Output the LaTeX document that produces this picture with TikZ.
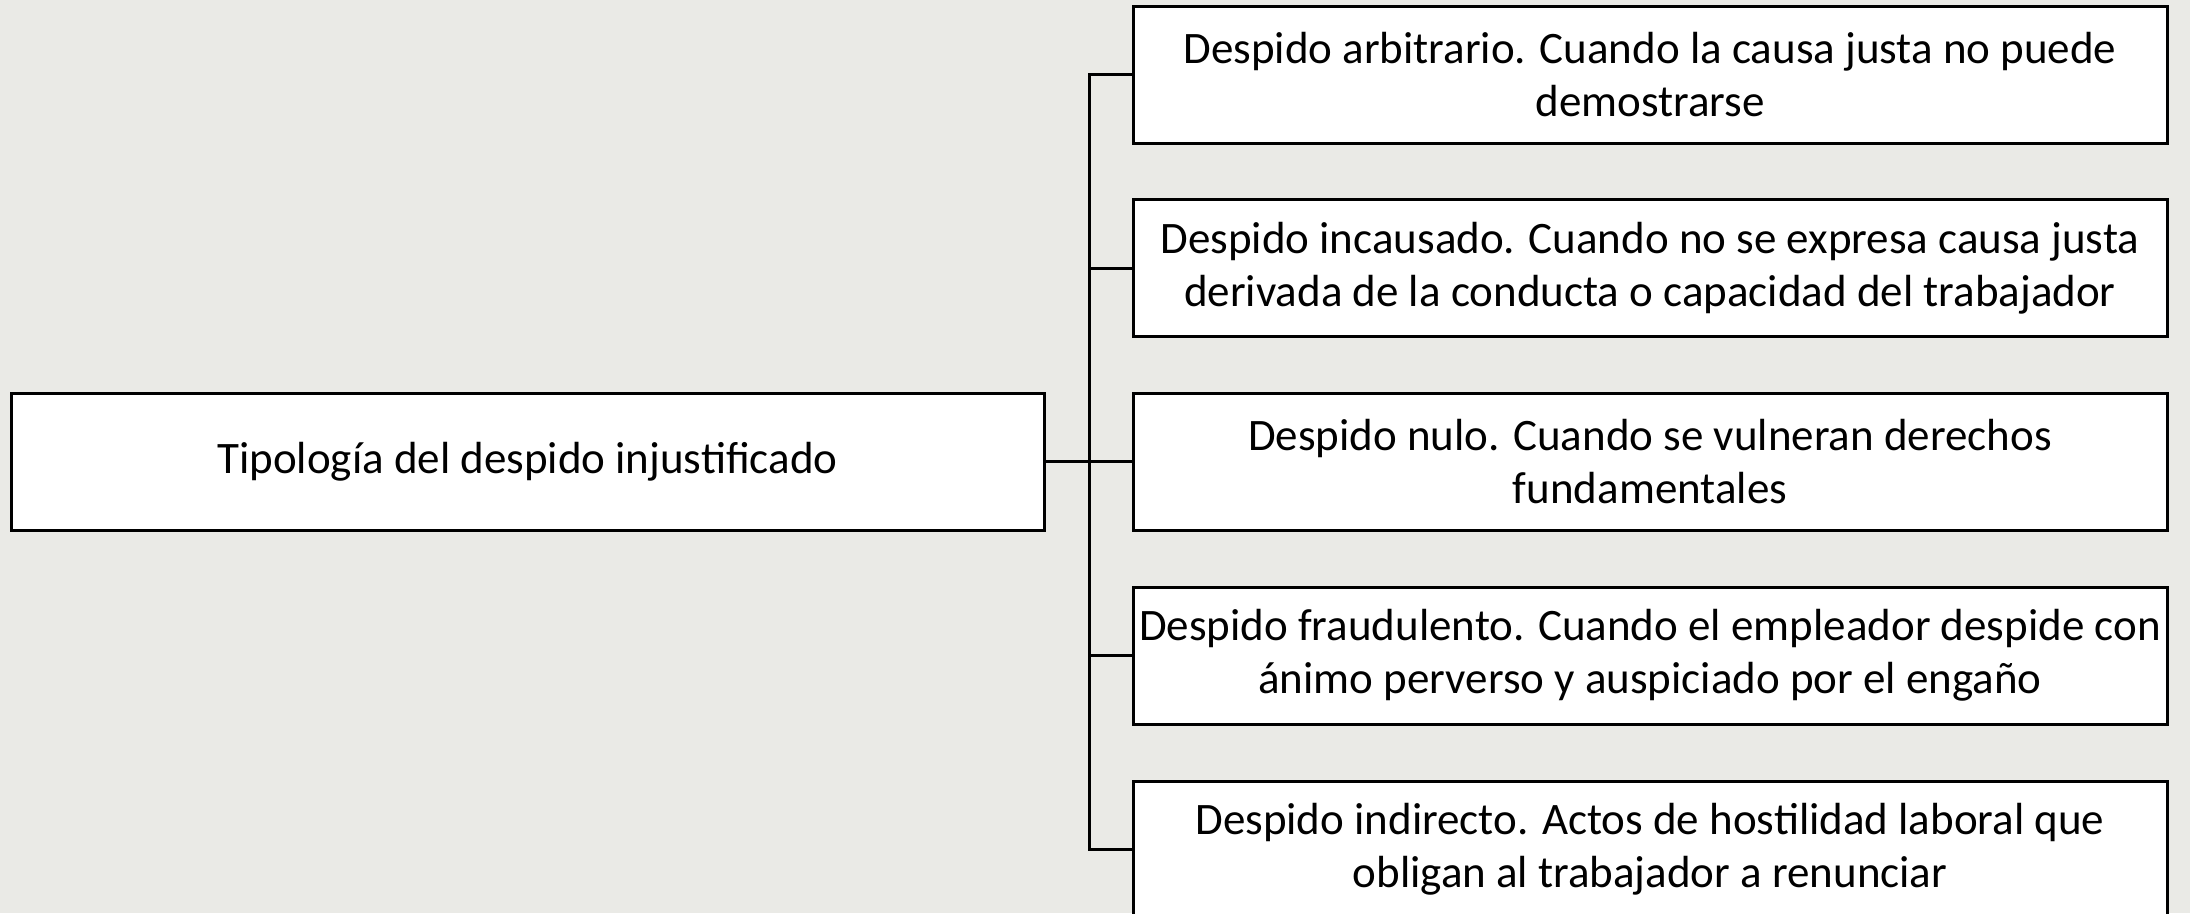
\documentclass[tikz,border=0pt]{standalone}
\usepackage{fontspec}
\setmainfont{Carlito}
\definecolor{bgc}{RGB}{234,234,230}
\begin{document}
\begin{tikzpicture}[x=1pt,y=-1pt,
  box/.style={draw=black, line width=3pt, fill=white, minimum width=1034pt, minimum height=137pt,
    align=center, inner sep=0pt, font=\fontsize{45}{53}\selectfont},
  link/.style={draw=black, line width=3pt}]
\fill[bgc] (0,0) rectangle (2190,913);
\useasboundingbox (0,0) rectangle (2190,913);
\node[box, minimum width=1033pt] (L) at (527.5,461.5) {Tipología del despido injustificado};
\node[box] (R1) at (1650,74.5) {Despido arbitrario. Cuando la causa justa no puede\\demostrarse};
\node[box] (R2) at (1650,268) {Despido incausado. Cuando no se expresa causa justa\\derivada de la conducta o capacidad del trabajador};
\node[box] (R3) at (1650,461.5) {Despido nulo. Cuando se vulneran derechos\\fundamentales};
\node[box] (R4) at (1650,655.5) {Despido fraudulento. Cuando el empleador despide con\\ánimo perverso y auspiciado por el engaño};
\node[box] (R5) at (1650,849.5) {Despido indirecto. Actos de hostilidad laboral que\\obligan al trabajador a renunciar};
\coordinate (J) at (1089,461.5);
\draw[link] (L.east) -- (R3.west);
\draw[link] (R1.west) -- (R1.west -| J) -- (R5.west -| J) -- (R5.west);
\draw[link] (R2.west) -- (R2.west -| J);
\draw[link] (R4.west) -- (R4.west -| J);
\end{tikzpicture}
\end{document}
